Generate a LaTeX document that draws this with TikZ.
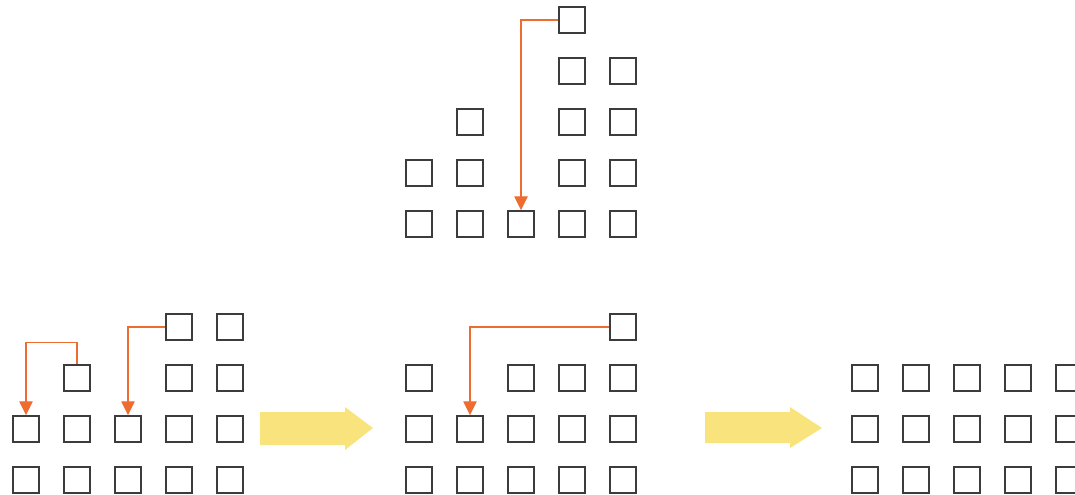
\documentclass[tikz,border=0pt]{standalone}
\usepackage{tikz}
\usetikzlibrary{arrows.meta}
\definecolor{boxgray}{HTML}{3C3C3C}
\definecolor{moveorange}{HTML}{EE6C30}
\definecolor{stepyellow}{HTML}{F9E37C}

\tikzset{
  cell/.style={draw=boxgray,line width=1.8pt,minimum size=0.76cm,inner sep=0pt},
  move/.style={moveorange,line width=1.2pt,-{Triangle[length=0.42cm,width=0.4cm]}}
}

\begin{document}
\begin{tikzpicture}[x=0.03cm,y=0.03cm]
        \useasboundingbox (0,0) rectangle (1075,494);
        % top: before
        \foreach \c/\r in {1/4,1/5,2/3,2/4,2/5,3/5,4/1,4/2,4/3,4/4,4/5,5/2,5/3,5/4,5/5}
          {\node[cell] (t-\c-\r) at ({419+51*(\c-1)},{270+51*(5-\r)}) {};}
        \draw[move] (t-4-1.west) -| (t-3-5.north);
        % bottom left
        \foreach \c/\r in {1/3,1/4,2/2,2/3,2/4,3/3,3/4,4/1,4/2,4/3,4/4,5/1,5/2,5/3,5/4}
          {\node[cell] (l-\c-\r) at ({26+51*(\c-1)},{14+51*(4-\r)}) {};}
        \draw[move] (l-2-2.north) -- ++(0,22) -| (l-1-3.north);
        \draw[move] (l-4-1.west) -| (l-3-3.north);
        % bottom middle
        \foreach \c/\r in {1/2,1/3,1/4,2/3,2/4,3/2,3/3,3/4,4/2,4/3,4/4,5/1,5/2,5/3,5/4}
          {\node[cell] (m-\c-\r) at ({419+51*(\c-1)},{14+51*(4-\r)}) {};}
        \draw[move] (m-5-1.west) -| (m-2-3.north);
        % bottom right: levelled
        \foreach \c in {1,...,5}
          \foreach \r in {2,3,4}
            {\node[cell] (r-\c-\r) at ({865+51*(\c-1)},{14+51*(4-\r)}) {};}
        % yellow step arrows
        \fill[stepyellow] (260,49) -- (345,49) -- (345,44) -- (373,66) -- (345,87)
          -- (345,82) -- (260,82) -- cycle;
        \fill[stepyellow] (705,51) -- (790,51) -- (790,46) -- (822,66) -- (790,87)
          -- (790,82) -- (705,82) -- cycle;
      \end{tikzpicture}
\end{document}
